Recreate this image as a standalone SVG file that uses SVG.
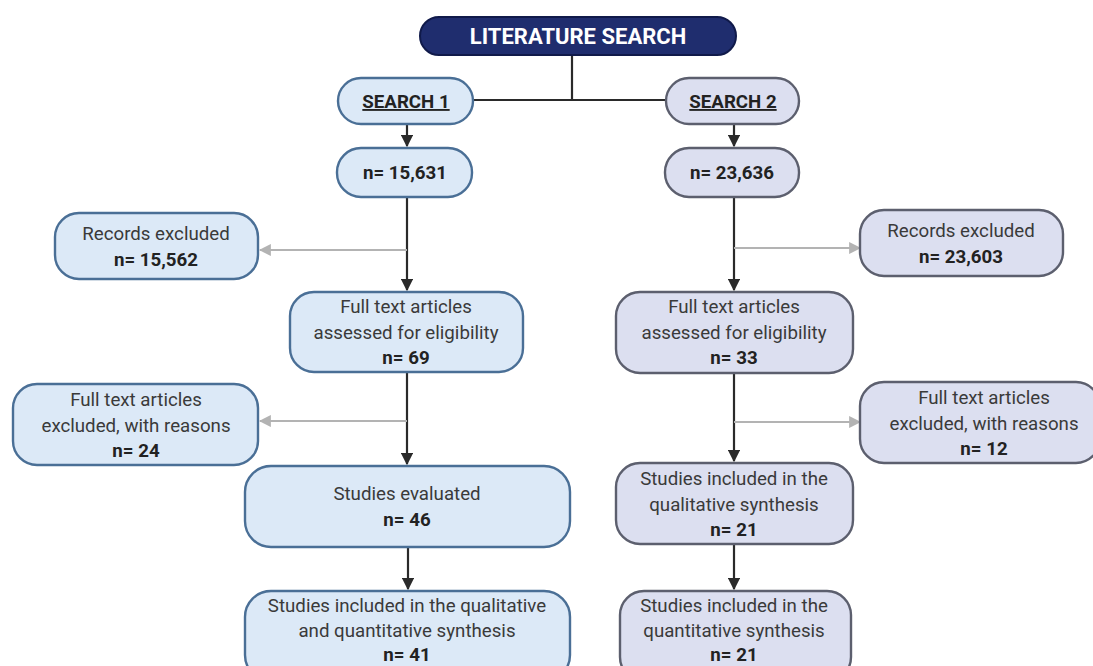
<svg xmlns="http://www.w3.org/2000/svg" width="1093" height="666" viewBox="0 0 1093 666">
<defs>
<style>
.t{font-family:Roboto,"Liberation Sans",sans-serif;font-size:18.7px;fill:#3a3a3a;text-anchor:middle}
.b{font-weight:bold;fill:#222}
.ttl{font-family:Roboto,"Liberation Sans",sans-serif;font-size:22px;font-weight:bold;fill:#fff;text-anchor:middle}
.s1{fill:#dce9f7;stroke:#4a6f96;stroke-width:2.4}
.s2{fill:#dcdff0;stroke:#5c5f6e;stroke-width:2.4}
.blk{stroke:#2a2a2a;stroke-width:2.2;fill:none}
.gry{stroke:#b3b3b3;stroke-width:2.2;fill:none}
</style>
<marker id="ab" viewBox="0 0 10 10" refX="9" refY="5" markerWidth="5.5" markerHeight="5.5" orient="auto" markerUnits="strokeWidth"><path d="M0,0 L10,5 L0,10 z" fill="#2a2a2a"/></marker>
<marker id="ag" viewBox="0 0 10 10" refX="9" refY="5" markerWidth="5.5" markerHeight="5.5" orient="auto" markerUnits="strokeWidth"><path d="M0,0 L10,5 L0,10 z" fill="#b3b3b3"/></marker>
</defs>
<rect width="1093" height="666" fill="#fff"/>
<g id="connectors">
<polyline class="blk" points="572,55 572,100"/>
<polyline class="blk" points="473,100 666,100"/>
<line class="blk" x1="407" y1="124" x2="407" y2="146" marker-end="url(#ab)"/>
<line class="blk" x1="734" y1="124" x2="734" y2="146" marker-end="url(#ab)"/>
<line class="blk" x1="407" y1="197" x2="407" y2="290" marker-end="url(#ab)"/>
<line class="gry" x1="407" y1="250" x2="260" y2="250" marker-end="url(#ag)"/>
<line class="blk" x1="734" y1="197" x2="734" y2="290" marker-end="url(#ab)"/>
<line class="gry" x1="734" y1="248" x2="860" y2="248" marker-end="url(#ag)"/>
<line class="blk" x1="407" y1="372" x2="407" y2="464" marker-end="url(#ab)"/>
<line class="gry" x1="407" y1="421" x2="260" y2="421" marker-end="url(#ag)"/>
<line class="blk" x1="734" y1="373" x2="734" y2="461" marker-end="url(#ab)"/>
<line class="gry" x1="734" y1="422" x2="860" y2="422" marker-end="url(#ag)"/>
<line class="blk" x1="408" y1="548" x2="408" y2="589" marker-end="url(#ab)"/>
<line class="blk" x1="734" y1="544" x2="734" y2="589" marker-end="url(#ab)"/>
</g>
<g id="lit">
<rect x="420" y="17" width="316" height="38" rx="19" fill="#1f2d6e" stroke="#101a4a" stroke-width="2"/>
<text class="ttl" x="578" y="44">LITERATURE SEARCH</text>
</g>
<g id="search1">
<rect class="s1" x="338" y="78" width="135" height="46" rx="23"/>
<text class="t b" x="406" y="108" text-decoration="underline">SEARCH 1</text>
</g>
<g id="search2">
<rect class="s2" x="666" y="78" width="133" height="46" rx="23"/>
<text class="t b" x="733" y="108" text-decoration="underline">SEARCH 2</text>
</g>
<g id="n1">
<rect class="s1" x="337" y="148" width="135" height="49" rx="24"/>
<text class="t b" x="405" y="179">n= 15,631</text>
</g>
<g id="n2">
<rect class="s2" x="665" y="148" width="134" height="49" rx="24"/>
<text class="t b" x="732" y="179">n= 23,636</text>
</g>
<g id="rec1">
<rect class="s1" x="55" y="213" width="203" height="66" rx="24"/>
<text class="t" x="156" y="240">Records excluded</text>
<text class="t b" x="156" y="266">n= 15,562</text>
</g>
<g id="rec2">
<rect class="s2" x="860" y="210" width="203" height="66" rx="24"/>
<text class="t" x="961" y="237">Records excluded</text>
<text class="t b" x="961" y="263">n= 23,603</text>
</g>
<g id="ft1">
<rect class="s1" x="290" y="292" width="233" height="80" rx="24"/>
<text class="t" x="406" y="313">Full text articles</text>
<text class="t" x="406" y="339">assessed for eligibility</text>
<text class="t b" x="406" y="364">n= 69</text>
</g>
<g id="ft2">
<rect class="s2" x="616" y="292" width="237" height="81" rx="24"/>
<text class="t" x="734" y="313">Full text articles</text>
<text class="t" x="734" y="339">assessed for eligibility</text>
<text class="t b" x="734" y="364">n= 33</text>
</g>
<g id="fte1">
<rect class="s1" x="13" y="384" width="245" height="81" rx="24"/>
<text class="t" x="136" y="406">Full text articles</text>
<text class="t" x="136" y="432">excluded, with reasons</text>
<text class="t b" x="136" y="457">n= 24</text>
</g>
<g id="fte2">
<rect class="s2" x="860" y="382" width="240" height="81" rx="24"/>
<text class="t" x="984" y="404">Full text articles</text>
<text class="t" x="984" y="430">excluded, with reasons</text>
<text class="t b" x="984" y="455">n= 12</text>
</g>
<g id="eval">
<rect class="s1" x="245" y="466" width="325" height="81" rx="26"/>
<text class="t" x="407" y="500">Studies evaluated</text>
<text class="t b" x="407" y="526">n= 46</text>
</g>
<g id="qual">
<rect class="s2" x="616" y="463" width="237" height="81" rx="24"/>
<text class="t" x="734" y="485">Studies included in the</text>
<text class="t" x="734" y="511">qualitative synthesis</text>
<text class="t b" x="734" y="536">n= 21</text>
</g>
<g id="incl1">
<rect class="s1" x="245" y="591" width="325" height="90" rx="26"/>
<text class="t" x="407" y="612">Studies included in the qualitative</text>
<text class="t" x="407" y="637">and quantitative synthesis</text>
<text class="t b" x="407" y="661">n= 41</text>
</g>
<g id="quant">
<rect class="s2" x="620" y="591" width="231" height="90" rx="24"/>
<text class="t" x="734" y="612">Studies included in the</text>
<text class="t" x="734" y="637">quantitative synthesis</text>
<text class="t b" x="734" y="661">n= 21</text>
</g>
</svg>
